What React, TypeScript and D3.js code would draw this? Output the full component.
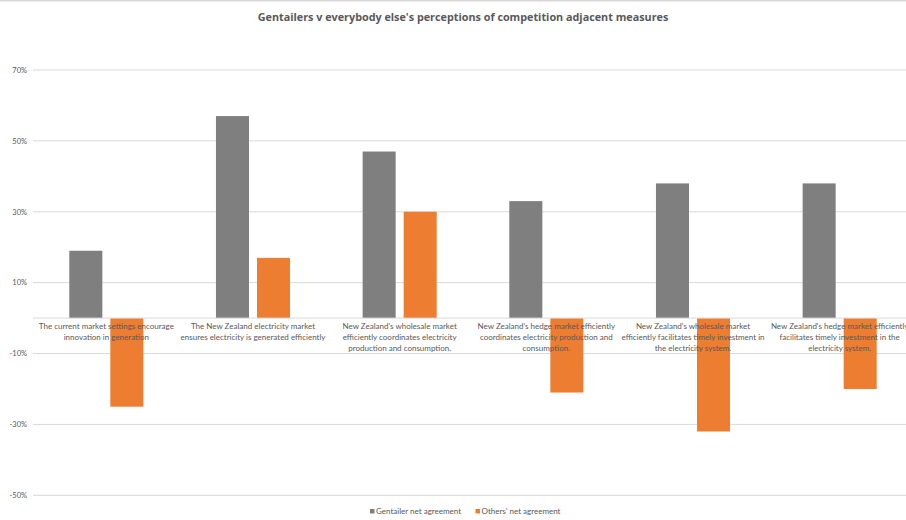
import React from "react";
import * as d3 from "d3";

const WIDTH = 906;
const HEIGHT = 520;

const title = "Gentailers v everybody else's perceptions of competition adjacent measures";

const categories: string[][] = [
  ["The current market settings encourage", "innovation in generation"],
  ["The New Zealand electricity market", "ensures electricity is generated efficiently"],
  ["New Zealand's wholesale market", "efficiently coordinates electricity", "production and consumption."],
  ["New Zealand's hedge market efficiently", "coordinates electricity production and", "consumption."],
  ["New Zealand's wholesale market", "efficiently facilitates timely investment in", "the electricity system."],
  ["New Zealand's hedge market efficiently", "facilitates timely investment in the", "electricity system."],
];

const seriesNames = ["Gentailer net agreement", "Others' net agreement"];
const gentailerValues = [19, 57, 47, 33, 38, 38];
const othersValues = [-25, 17, 30, -21, -32, -20];
const seriesColors = ["#7f7f7f", "#ed7d31"];

const yTicks = [70, 50, 30, 10, -10, -30, -50];
const yDomain: [number, number] = [-50, 70];

export default function App() {
  const plotLeft = 33;
  const plotRight = 913;
  const plotTop = 70;
  const plotBottom = 495.3;

  const catIds = categories.map((_, i) => String(i));
  const x0 = d3.scaleBand<string>().domain(catIds).range([plotLeft, plotRight]).padding(0);
  const step = x0.step();
  const groupInset = step * 0.2475;
  const x1 = d3
    .scaleBand<string>()
    .domain(seriesNames)
    .range([groupInset, step - groupInset])
    .paddingInner(0.195)
    .paddingOuter(0);
  const y = d3.scaleLinear().domain(yDomain).range([plotBottom, plotTop]);
  const fmt = (v: number) => `${v}%`;

  const seriesValues = [gentailerValues, othersValues];

  return (
    <svg
      width={WIDTH}
      height={HEIGHT}
      style={{ position: "fixed", left: 0, top: 0, background: "#fff" }}
      fontFamily="Lato, 'Open Sans', sans-serif"
    >
      <rect x={0} y={0} width={WIDTH} height={HEIGHT} fill="#fff" />
      <rect x={0} y={0} width={WIDTH} height={1.5} fill="#d6d6d6" />

      <text
        x={463}
        y={20.5}
        textAnchor="middle"
        fontSize={10.8}
        fontWeight={700}
        fill="#595959"
        fontFamily="'Open Sans', sans-serif"
      >
        {title}
      </text>

      {/* horizontal gridlines and value axis labels */}
      {yTicks.map((t) => (
        <g key={t}>
          <line x1={plotLeft} x2={WIDTH} y1={y(t)} y2={y(t)} stroke="#d9d9d9" strokeWidth={1} />
          <text x={27} y={y(t) + 2.8} textAnchor="end" fontSize={7.5} fill="#595959">
            {fmt(t)}
          </text>
        </g>
      ))}

      {/* bars */}
      {seriesValues.map((vals, si) =>
        vals.map((v, ci) => {
          const bx = (x0(String(ci)) ?? 0) + (x1(seriesNames[si]) ?? 0);
          const top = y(Math.max(0, v));
          const h = Math.abs(y(v) - y(0));
          return (
            <rect
              key={`${si}-${ci}`}
              x={bx}
              y={top}
              width={x1.bandwidth()}
              height={h}
              fill={seriesColors[si]}
            />
          );
        })
      )}

      {/* category axis line */}
      <line x1={plotLeft} x2={WIDTH} y1={y(0)} y2={y(0)} stroke="#d9d9d9" strokeWidth={1} />

      {/* category labels */}
      {categories.map((lines, ci) => {
        const cx = (x0(String(ci)) ?? 0) + step / 2;
        return (
          <text key={ci} textAnchor="middle" fontSize={8} fill="#595959">
            {lines.map((ln, li) => (
              <tspan key={li} x={cx} y={y(0) + 11 + li * 11}>
                {ln}
              </tspan>
            ))}
          </text>
        );
      })}

      {/* legend */}
      <g>
        <rect x={370} y={509} width={4.5} height={4.5} fill={seriesColors[0]} />
        <text x={376} y={514} fontSize={8} fill="#595959">
          {seriesNames[0]}
        </text>
        <rect x={475.5} y={509} width={4.5} height={4.5} fill={seriesColors[1]} />
        <text x={481.5} y={514} fontSize={8} fill="#595959">
          {seriesNames[1]}
        </text>
      </g>
    </svg>
  );
}
